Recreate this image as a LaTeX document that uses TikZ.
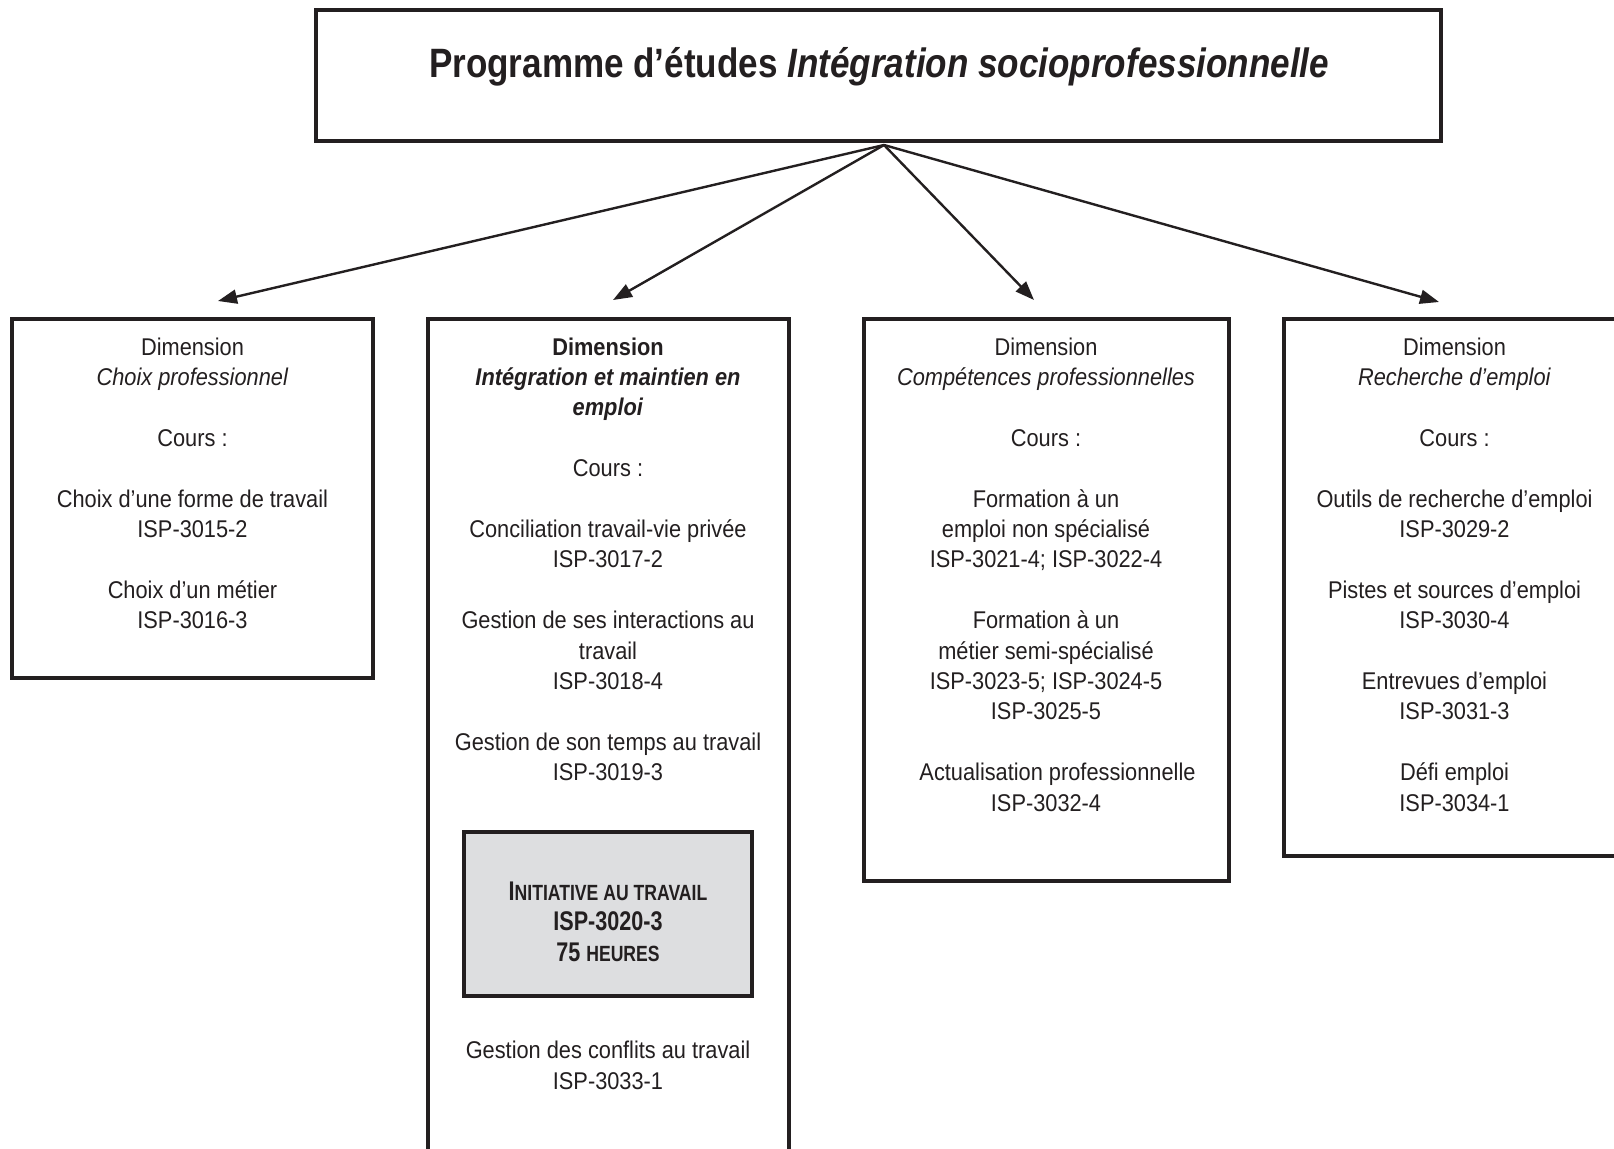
\documentclass[tikz,border=0pt]{standalone}
\usepackage{fontspec}
\setmainfont{Liberation Sans}[FakeStretch=0.9]
\newfontfamily\titlefont{Liberation Sans}[FakeStretch=0.855]
\newfontfamily\shadefont{Liberation Sans}[FakeStretch=0.8]
\usetikzlibrary{arrows.meta}
\definecolor{ink}{RGB}{35,31,32}
\definecolor{shade}{RGB}{221,222,224}

\begin{document}
\begin{tikzpicture}[x=1bp,y=-1bp,
  frame/.style={draw=ink, line width=3.5bp, fill=white, inner sep=0pt},
  % the base anchor of a multi-line node sits on its last line
  body/.style={align=center, inner sep=0pt, anchor=base, text=ink,
    font=\fontsize{24.2bp}{30.4bp}\selectfont},
  link/.style={draw=ink, line width=2.4bp, -{Triangle[length=19bp,width=14bp]}},
]
\clip (0,0) rectangle (1614,1148);
\fill[white] (0,0) rectangle (1614,1148);

% frames
\node[frame, minimum width=1125bp, minimum height=131bp] (title) at (878.5,75.5) {};
\node[frame, minimum width=361bp, minimum height=359bp] (b1) at (192.5,498.5) {};
\node[frame, minimum width=361bp, minimum height=851bp] (b2) at (608.5,744.5) {};
\node[frame, minimum width=365bp, minimum height=562bp] (b3) at (1046.5,600) {};
\node[frame, minimum width=340bp, minimum height=537bp] (b4) at (1454,587.5) {};
\node[frame, fill=shade, minimum width=288bp, minimum height=164bp] (core) at (608,914) {};

% title
\node[anchor=base, inner sep=0pt, text=ink, font=\titlefont\fontsize{41bp}{48bp}\selectfont\bfseries]
  (ttext) at (879,77) {Programme d’études \textit{Intégration socioprofessionnelle}};

% connectors
\coordinate (hub) at (884,145);
\coordinate (e1) at (218,301);
\coordinate (e2) at (613,300);
\coordinate (e3) at (1034,300);
\coordinate (e4) at (1439,302);
\foreach \e in {e1,e2,e3,e4} \draw[link] (hub) -- (\e);

% dimension contents
\node[body] (t1) at (192.5,628.6) {Dimension\\\textit{Choix professionnel}\\[30.4bp]
  Cours :\\[30.4bp]
  Choix d’une forme de travail\\ISP-3015-2\\[30.4bp]
  Choix d’un métier\\ISP-3016-3};

\node[body] (t2) at (608,780.6) {\textbf{Dimension}\\\textbf{\textit{Intégration et maintien en}}\\\textbf{\textit{emploi}}\\[30.4bp]
  Cours :\\[30.4bp]
  Conciliation travail-vie privée\\ISP-3017-2\\[30.4bp]
  Gestion de ses interactions au\\travail\\ISP-3018-4\\[30.4bp]
  Gestion de son temps au travail\\ISP-3019-3};

\node[body] (t2b) at (608,1089) {Gestion des conflits au travail\\ISP-3033-1};

\node[body, font=\shadefont\fontsize{27bp}{30.5bp}\selectfont\bfseries] (ctext) at (608,961)
  {I{\fontsize{22bp}{30.5bp}\selectfont NITIATIVE AU TRAVAIL}\\ISP-3020-3\\75 {\fontsize{22bp}{30.5bp}\selectfont HEURES}};

\node[body] (t3) at (1046,811) {Dimension\\\textit{Compétences professionnelles}\\[30.4bp]
  Cours :\\[30.4bp]
  Formation à un\\emploi non spécialisé\\ISP-3021-4; ISP-3022-4\\[30.4bp]
  Formation à un\\métier semi-spécialisé\\ISP-3023-5; ISP-3024-5\\ISP-3025-5\\[30.4bp]
  \hspace*{23bp}Actualisation professionnelle\\ISP-3032-4};

\node[body] (t4) at (1454.5,811) {Dimension\\\textit{Recherche d’emploi}\\[30.4bp]
  Cours :\\[30.4bp]
  Outils de recherche d’emploi\\ISP-3029-2\\[30.4bp]
  Pistes et sources d’emploi\\ISP-3030-4\\[30.4bp]
  Entrevues d’emploi\\ISP-3031-3\\[30.4bp]
  Défi emploi\\ISP-3034-1};
\end{tikzpicture}
\end{document}
